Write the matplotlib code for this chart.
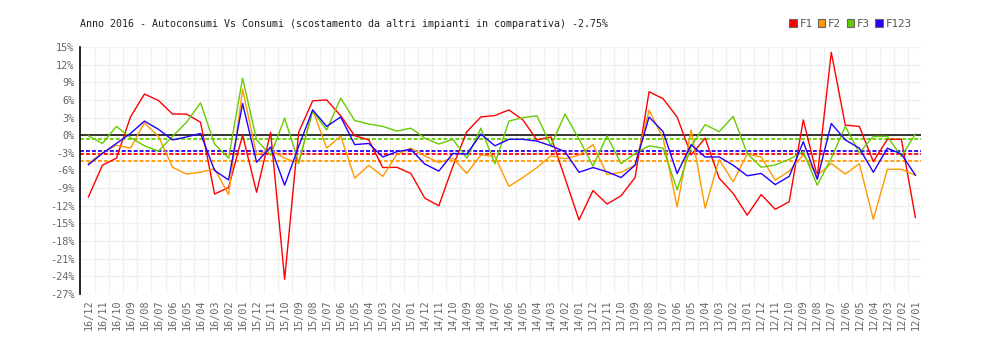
import matplotlib
matplotlib.use("Agg")
import matplotlib.pyplot as plt
from matplotlib.patches import Patch
import numpy as np

# months, newest first (16/12 ... 12/01)
months = [f"{y:02d}/{m:02d}" for y in range(16, 11, -1) for m in range(12, 0, -1)]

f1 = [-10.5, -5.1, -3.9, 3.1, 7.0, 5.9, 3.6, 3.6, 2.2, -10.0,
      -8.9, 0.0, -9.7, 0.5, -24.5, 0.5, 5.85, 6.0, 3.3, -0.1,
      -0.8, -5.5, -5.45, -6.5, -10.7, -12.0, -5.3, 0.6, 3.1, 3.35,
      4.3, 2.6, -0.8, -0.3, -7.3, -14.4, -9.4, -11.7, -10.3, -7.2,
      7.4, 6.2, 3.1, -3.35, -0.5, -7.3, -9.9, -13.6, -10.1, -12.6,
      -11.3, 2.6, -7.0, 14.1, 1.7, 1.5, -4.5, -0.7, -0.7, -14.0]

f2 = [-4.8, -3.0, -1.7, -2.2, 2.1, -0.2, -5.45, -6.6, -6.3, -5.7,
      -10.1, 7.8, -3.35, -2.5, -3.9, -4.8, 4.3, -2.2, -0.15, -7.3,
      -5.1, -7.0, -3.3, -2.2, -3.5, -4.65, -3.9, -6.5, -3.35, -3.6,
      -8.7, -7.2, -5.5, -3.5, -4.0, -3.4, -1.6, -6.7, -6.3, -5.1,
      4.25, -0.5, -12.2, 0.9, -12.4, -4.15, -7.9, -3.2, -3.7, -7.65,
      -6.1, -3.35, -6.8, -4.8, -6.6, -4.85, -14.3, -5.8, -5.8, -6.8]

f3 = [-0.1, -1.4, 1.5, -0.4, -1.8, -2.7, -0.2, 2.2, 5.5, -1.5,
      -3.9, 9.7, -0.8, -3.4, 2.9, -4.6, 4.1, 0.9, 6.3, 2.5,
      1.9, 1.5, 0.7, 1.2, -0.5, -1.5, -0.7, -3.9, 1.2, -4.85,
      2.4, 3.0, 3.3, -1.8, 3.6, -0.65, -5.25, -0.1, -4.85, -3.1,
      -1.8, -2.2, -9.3, -1.9, 1.8, 0.6, 3.2, -3.1, -5.45, -5.05,
      -4.1, -2.8, -8.5, -3.9, 1.5, -3.0, -0.2, -0.2, -3.6, 0.2]

f123 = [-5.0, -3.1, -1.4, 0.3, 2.4, 1.0, -0.8, -0.3, 0.3, -6.0,
        -7.6, 5.4, -4.6, -2.0, -8.5, -1.9, 4.3, 1.5, 3.1, -1.6,
        -1.4, -3.7, -2.8, -2.4, -4.9, -6.1, -3.1, -3.2, 0.2, -1.8,
        -0.7, -0.7, -1.0, -1.8, -2.8, -6.3, -5.5, -6.2, -7.2, -5.1,
        3.1, 0.6, -6.5, -1.6, -3.7, -3.7, -5.1, -6.9, -6.5, -8.4,
        -7.0, -1.1, -7.5, 2.0, -0.8, -2.2, -6.3, -2.2, -3.2, -6.8]

series_names = ["F1", "F2", "F3", "F123"]
series_means = [-3.2, -4.4, -0.63, -2.73]
colors = ["#ff0000", "#ff9900", "#66cc00", "#2200ff"]

title = "Anno 2016 - Autoconsumi Vs Consumi (scostamento da altri impianti in comparativa) -2.75%"
mono = "DejaVu Sans Mono"

fig = plt.figure(figsize=(10, 3.4), dpi=100)
ax = fig.add_axes([0.08, 1 - 294 / 340, 0.841, 247 / 340])

x = np.arange(len(months))
all_series = [f1, f2, f3, f123]

# grid
for k in range(1, len(months) + 1):
    ax.axvline(k - 0.5, color="#f0f0f0", lw=1.0, zorder=0)
yt = np.arange(-27, 16, 3)
for v in yt:
    ax.axhline(v, color="#f0f0f0", lw=1.0, zorder=0)

ax.axhline(0, color="black", lw=1.1, zorder=2)

for vals, m, c in zip(all_series, series_means, colors):
    ax.plot(x, vals, color=c, lw=1.0, zorder=3)
    ax.axhline(m, color=c, lw=1.3, ls=(0, (2.2, 1.1)), zorder=2)

ax.set_xlim(-0.6, 59.4)
ax.set_ylim(-27, 15)
ax.set_yticks(yt)
ax.set_yticklabels([f"{v}%" for v in yt], family=mono, fontsize=7.3, color="#666666")
ax.set_xticks(x)
ax.set_xticklabels(months, rotation=90, family=mono, fontsize=7.3, color="#666666")
ax.tick_params(length=0, pad=4)

for s in ["top", "right", "bottom"]:
    ax.spines[s].set_visible(False)
ax.spines["left"].set_color("black")
ax.spines["left"].set_linewidth(1.2)

fig.text(0.08, 1 - 24 / 340, title, family=mono, fontsize=7.2,
         color="#222222", va="center", ha="left")

handles = [Patch(facecolor=c, edgecolor="#666666", lw=0.8) for c in colors]
fig.legend(handles, series_names, loc="center right",
           bbox_to_anchor=(0.917, 1 - 24 / 340), ncol=4, frameon=False,
           prop={"family": mono, "size": 7.8}, handlelength=0.7,
           handleheight=0.7, handletextpad=0.25, columnspacing=0.5,
           borderpad=0, labelcolor="#555555")

fig.savefig("out.png", dpi=100)
